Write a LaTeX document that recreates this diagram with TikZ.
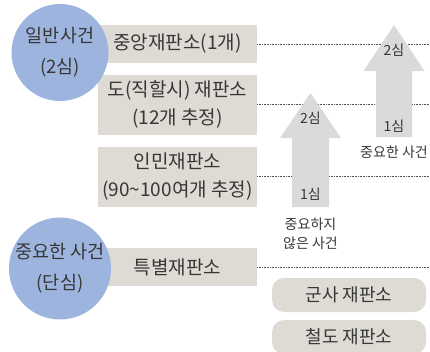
\documentclass[tikz,border=0pt]{standalone}
\usepackage{fontspec}
\setmainfont{Noto Sans CJK KR}
\definecolor{circblue}{RGB}{157,181,222}
\definecolor{boxgray}{RGB}{222,219,212}
\definecolor{arrgray}{RGB}{218,218,218}
\definecolor{txt}{RGB}{55,55,55}
\definecolor{dotc}{RGB}{80,80,80}
\begin{document}
\begin{tikzpicture}[x=1pt,y=-1pt,
  court/.style={fill=boxgray, minimum width=159pt, inner sep=0pt, align=center, text=txt,
    font=\fontsize{19}{28}\selectfont},
  circ/.style={circle, fill=circblue, minimum size=97pt, inner sep=0pt, align=center, text=txt,
    font=\fontsize{18.5}{31}\selectfont},
  rbox/.style={fill=boxgray, rounded corners=12pt, minimum width=154pt, minimum height=34pt,
    inner sep=0pt, text=txt, font=\fontsize{18}{20}\selectfont},
  lbl/.style={text=txt, inner sep=0pt, align=center, font=\fontsize{14}{19.5}\selectfont},
  dotline/.style={dotc, line width=0.8pt, dash pattern=on 0.8pt off 0.8pt},
  arrowfill/.style={fill=arrgray}
]
\useasboundingbox (0,0) rectangle (430,351);
\coordinate (right) at (430,0);

% court boxes
\node[court, minimum height=38pt] (c1) at (177.5,44) {중앙재판소(1개)};
\node[court, minimum height=60pt] (c2) at (177.5,104.5) {도(직할시) 재판소\\(12개 추정)};
\node[court, minimum height=60pt] (c3) at (177.5,176.5) {인민재판소\\(90\textasciitilde100여개 추정)};
\node[court, minimum height=38pt] (c4) at (177.5,267) {특별재판소};

% dotted lines
\draw[dotline] (c1.east) -- (c1.east -| right);
\draw[dotline] (c2.east) -- (c2.east -| right);
\draw[dotline] (c3.east) -- (c3.east -| right);
\draw[dotline] (c4.east) -- (c4.east -| right);

% circles
\node[circ] (g1) at (60,52.5) {일반사건\\(2심)};
\node[circ] (g2) at (60,268.5) {중요한 사건\\(단심)};

% arrow 1
\fill[arrowfill] (310.5,93) -- (341,138) -- (329,138) -- (329,207) -- (292,207) -- (292,138) -- (280,138) -- cycle;
\node[lbl] (a1top) at (310.5,118.5) {2심};
\node[lbl] (a1bot) at (310.5,194.5) {1심};
\node[lbl] (a1txt) at (310.5,234) {중요하지\\않은 사건};

% arrow 2
\fill[arrowfill] (394,25) -- (424.5,71) -- (412,71) -- (412,137) -- (376,137) -- (376,71) -- (363.5,71) -- cycle;
\node[lbl] (a2top) at (394,50) {2심};
\node[lbl] (a2bot) at (394,126.5) {1심};
\node[lbl] (a2txt) at (394,152.5) {중요한 사건};

% special courts
\node[rbox] (m1) at (349,295) {군사 재판소};
\node[rbox] (m2) at (349,337) {철도 재판소};
\end{tikzpicture}
\end{document}
